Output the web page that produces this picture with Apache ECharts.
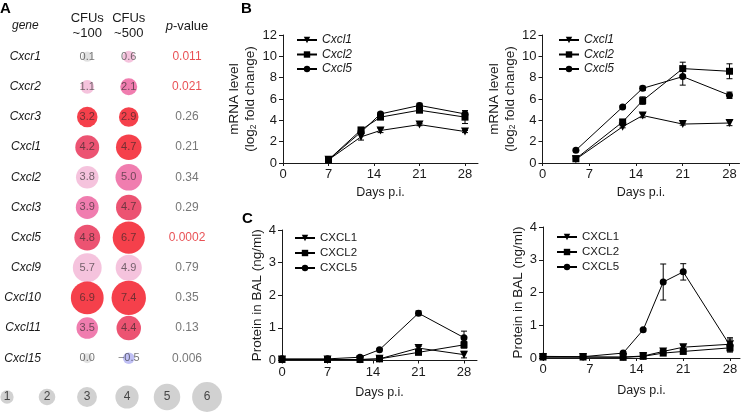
<!DOCTYPE html>
<html><head><meta charset="utf-8">
<script src="https://cdn.jsdelivr.net/npm/echarts@6/dist/echarts.min.js"></script>
<style>html,body{margin:0;padding:0;background:#fff}#c{width:743px;height:412px}</style>
</head><body><div id="c"></div>
<script>
// ---------- Panel A data ----------
const genes = ['Cxcr1','Cxcr2','Cxcr3','Cxcl1','Cxcl2','Cxcl3','Cxcl5','Cxcl9','Cxcl10','Cxcl11','Cxcl15'];
const cfuCols = ['CFUs\n~100','CFUs\n~500'];
const fold100 = [0.1,1.1,3.2,4.2,3.8,3.9,4.8,5.7,6.9,3.5,0.0];
const fold500 = [0.6,2.1,2.9,4.7,5.0,4.7,6.7,4.9,7.4,4.4,-0.5];
const tone100 = [0,1,4,3,1,2,3,1,4,2,0];
const tone500 = [1,2,4,4,2,3,4,1,4,3,-1];
const pValues = ['0.011','0.021','0.26','0.21','0.34','0.29','0.0002','0.79','0.35','0.13','0.006'];
const pHighlight = [1,1,0,0,0,0,1,0,0,0,0];
const sizeKey = [1,2,3,4,5,6];

// ---------- Panel B data (mRNA, log2 fold change) ----------
const bDaysL = [7,12,15,21,28];
const bL_cxcl1 = [0.3,2.45,3.05,3.6,2.95];
const bL_cxcl1_err = [0.1,0.3,0.2,0.1,0.1];
const bL_cxcl2 = [0.3,3.1,4.3,4.95,4.3];
const bL_cxcl2_err = [0.1,0.2,0.2,0.2,0.6];
const bL_cxcl5 = [0.3,2.9,4.6,5.4,4.6];
const bL_cxcl5_err = [0.1,0.2,0.15,0.2,0.3];

const bDaysR = [5,12,15,21,28];
const bR_cxcl1 = [0.35,3.4,4.45,3.65,3.75];
const bR_cxcl1_err = [0.05,0.1,0.2,0.1,0.25];
const bR_cxcl2 = [0.4,3.85,5.85,8.85,8.6];
const bR_cxcl2_err = [0.05,0.2,0.35,0.6,0.7];
const bR_cxcl5 = [1.2,5.25,7.0,8.1,6.35];
const bR_cxcl5_err = [0.1,0.1,0.2,0.8,0.3];

// ---------- Panel C data (protein in BAL, ng/ml) ----------
const cDaysL = [0,7,12,15,21,28];
const cL_cxcl1 = [0.03,0.03,0.03,0.05,0.38,0.18];
const cL_cxcl1_err = [0.01,0.01,0.01,0.01,0.05,0.1];
const cL_cxcl2 = [0.03,0.03,0.03,0.05,0.25,0.48];
const cL_cxcl2_err = [0.01,0.01,0.01,0.01,0.05,0.1];
const cL_cxcl5 = [0.05,0.05,0.1,0.33,1.45,0.7];
const cL_cxcl5_err = [0.01,0.01,0.02,0.03,0.07,0.2];

const cDaysR = [0,6,12,15,18,21,28];
const cR_cxcl1 = [0.03,0.03,0.03,0.06,0.2,0.33,0.42];
const cR_cxcl1_err = [0.01,0.01,0.01,0.01,0.05,0.06,0.2];
const cR_cxcl2 = [0.03,0.03,0.02,0.05,0.15,0.2,0.31];
const cR_cxcl2_err = [0.01,0.01,0.01,0.01,0.04,0.05,0.1];
const cR_cxcl5 = [0.05,0.04,0.15,0.86,2.32,2.63,0.38];
const cR_cxcl5_err = [0.01,0.01,0.03,0.04,0.55,0.25,0.2];

const dayTicks = [0,7,14,21,28];

// ---------- styling helpers ----------
const FONT = '"Liberation Sans", Arial, sans-serif';
const INK = '#1a1a1a';
const toneColors = {'-1':'#b0b0f2','0':'#dadada','1':'#f2b4d4','2':'#ec5c9b','3':'#e7284f','4':'#f2101e'};
const bubbleSize = v => 10 + 3.3 * Math.abs(v);
const fmtFold = v => v.toFixed(1).replace('-', '\u2212');

function lineAxisX(grid, max) {
  return {
    type:'value', gridIndex:grid, min:0, max:max, interval:7,
    name:'Days p.i.', nameLocation:'middle', nameGap: grid===3||grid===4 ? 23 : 26,
    nameTextStyle:{fontFamily:FONT, fontSize:12.5, color:INK},
    axisLine:{show:true, onZero:false, lineStyle:{color:INK, width:1}},
    axisTick:{show:true, length:3, customValues:dayTicks, lineStyle:{color:INK}},
    axisLabel:{customValues:dayTicks, fontFamily:FONT, fontSize:13, color:INK, margin:5},
    splitLine:{show:false}
  };
}
function lineAxisY(grid, max, interval, name, gap) {
  return {
    type:'value', gridIndex:grid, min:0, max:max, interval:interval,
    name:name, nameLocation:'middle', nameGap:gap, nameRotate:90,
    nameTextStyle:{fontFamily:FONT, fontSize:13.5, color:INK, lineHeight:16,
      rich:{sub:{fontFamily:FONT, fontSize:8.5, color:INK, padding:[6,0,0,0]}}},
    axisLine:{show:true, lineStyle:{color:INK, width:1}},
    axisTick:{show:true, length:4, lineStyle:{color:INK}},
    axisLabel:{fontFamily:FONT, fontSize:13, color:INK, margin:6},
    splitLine:{show:false}
  };
}
const symbolDefs = {
  tri:{symbol:'triangle', symbolRotate:180, symbolSize:8},
  sq:{symbol:'rect', symbolRotate:0, symbolSize:7},
  dot:{symbol:'circle', symbolRotate:0, symbolSize:7}
};
function lineSeries(name, axis, days, vals, sym) {
  const s = symbolDefs[sym];
  return {
    type:'line', name:name, xAxisIndex:axis, yAxisIndex:axis,
    data: days.map((d,i)=>[d, vals[i]]),
    symbol:s.symbol, symbolRotate:s.symbolRotate, symbolSize:s.symbolSize,
    showAllSymbol:true,
    lineStyle:{color:'#000', width:1}, itemStyle:{color:'#000'},
    z:3, animation:false
  };
}
function errSeries(axis, days, vals, errs) {
  return {
    type:'custom', xAxisIndex:axis, yAxisIndex:axis,
    data: days.map((d,i)=>[d, vals[i]-errs[i], vals[i]+errs[i]]),
    encode:{x:0, y:[1,2]},
    renderItem:(params, api) => {
      const x = api.value(0);
      const lo = api.coord([x, api.value(1)]);
      const hi = api.coord([x, api.value(2)]);
      const w = 3, st = {stroke:'#000', lineWidth:1};
      return {type:'group', children:[
        {type:'line', shape:{x1:lo[0], y1:lo[1], x2:hi[0], y2:hi[1]}, style:st},
        {type:'line', shape:{x1:hi[0]-w, y1:hi[1], x2:hi[0]+w, y2:hi[1]}, style:st},
        {type:'line', shape:{x1:lo[0]-w, y1:lo[1], x2:lo[0]+w, y2:lo[1]}, style:st}
      ]};
    },
    z:2, animation:false
  };
}
function legendBox(names, left, top, italic, fs, gap) {
  return {
    data:names, orient:'vertical', left:left, top:top,
    itemWidth:20, itemHeight:8, itemGap:gap, padding:0,
    textStyle:{fontFamily:FONT, fontSize:fs, color:INK, fontStyle: italic ? 'italic':'normal'},
    selectedMode:false
  };
}

// ---------- Panel A series data ----------
const bubbleData = [];
genes.forEach((g,i)=>{
  bubbleData.push({value:[0, i, fold100[i]], itemStyle:{color:toneColors[tone100[i]]}});
  bubbleData.push({value:[1, i, fold500[i]], itemStyle:{color:toneColors[tone500[i]]}});
});
const pData = genes.map((g,i)=>({value:[0,i], label:{color: pHighlight[i] ? '#e3262b' : '#555555'}}));

const option = {
  animation:false,
  backgroundColor:'#fff',
  textStyle:{fontFamily:FONT},
  grid:[
    {left:66.5, top:41.6, width:83, height:331.7},
    {left:165, top:41.6, width:44, height:331.7},
    {left:7, top:390, width:200, height:14},
    {left:283, top:35, width:195, height:128},
    {left:542.5, top:35, width:197, height:128},
    {left:282, top:230, width:195, height:130.5},
    {left:543, top:227, width:197, height:131}
  ],
  xAxis:[
    {type:'category', gridIndex:0, data:cfuCols, position:'top',
      axisLine:{show:false}, axisTick:{show:false},
      axisLabel:{fontFamily:FONT, fontSize:13, color:INK, lineHeight:14.5, margin:1, interval:0}},
    {type:'category', gridIndex:1, data:['p-value'], position:'top',
      axisLine:{show:false}, axisTick:{show:false},
      axisLabel:{formatter:()=>'{i|p}-value', fontFamily:FONT, fontSize:13, color:INK, margin:9,
        rich:{i:{fontFamily:FONT, fontSize:13, color:INK, fontStyle:'italic'}}}},
    {type:'value', gridIndex:2, min:1, max:6, show:false},
    lineAxisX(3, 30), lineAxisX(4, 29.5), lineAxisX(5, 30), lineAxisX(6, 29.5)
  ],
  yAxis:[
    {type:'category', gridIndex:0, data:genes, inverse:true,
      axisLine:{show:false}, axisTick:{show:false},
      axisLabel:{fontFamily:FONT, fontSize:12, fontStyle:'italic', color:INK, margin:25.5, interval:0}},
    {type:'category', gridIndex:1, data:genes, inverse:true, show:false},
    {type:'value', gridIndex:2, min:0, max:1, show:false},
    lineAxisY(3, 12, 2, 'mRNA level\n(log{sub|2} fold change)', 11),
    lineAxisY(4, 12, 2, 'mRNA level\n(log{sub|2} fold change)', 11),
    lineAxisY(5, 4, 1, 'Protein in BAL (ng/ml)', 11),
    lineAxisY(6, 4, 1, 'Protein in BAL (ng/ml)', 12)
  ],
  legend:[
    legendBox(['Cxcl1','Cxcl2','Cxcl5'], 296, 34, true, 12, 2.5),
    legendBox(['Cxcl1','Cxcl2','Cxcl5'], 558, 34, true, 12, 2.5),
    legendBox(['CXCL1','CXCL2','CXCL5'], 294, 232, false, 11.5, 3),
    legendBox(['CXCL1','CXCL2','CXCL5'], 556, 231, false, 11.5, 3)
  ],
  graphic:[
    {type:'text', left:0, top:1, style:{text:'A', fontFamily:FONT, fontSize:15, fontWeight:'bold', fill:'#000'}},
    {type:'text', left:241, top:1, style:{text:'B', fontFamily:FONT, fontSize:15, fontWeight:'bold', fill:'#000'}},
    {type:'text', left:242, top:211, style:{text:'C', fontFamily:FONT, fontSize:15, fontWeight:'bold', fill:'#000'}},
    {type:'text', left:12, top:20, style:{text:'gene', fontFamily:FONT, fontSize:12, fontStyle:'italic', fill:INK}}
  ],
  series:[
    {type:'scatter', xAxisIndex:0, yAxisIndex:0, data:bubbleData,
      symbolSize:v=>bubbleSize(v[2]),
      label:{show:true, position:'inside', formatter:p=>fmtFold(p.value[2]),
        fontFamily:FONT, fontSize:11, color:'rgba(35,35,35,0.78)'},
      emphasis:{disabled:true}},
    {type:'scatter', xAxisIndex:1, yAxisIndex:1, data:pData, symbolSize:1,
      itemStyle:{color:'rgba(0,0,0,0)'},
      label:{show:true, position:'inside', formatter:p=>pValues[p.dataIndex], fontFamily:FONT, fontSize:12},
      emphasis:{disabled:true}},
    {type:'scatter', xAxisIndex:2, yAxisIndex:2, data:sizeKey.map(k=>[k,0.5]),
      symbolSize:v=>bubbleSize(v[0]), itemStyle:{color:'#c6c6c6'},
      label:{show:true, position:'inside', formatter:p=>String(p.value[0]), fontFamily:FONT, fontSize:12, color:'#222'},
      emphasis:{disabled:true}},

    errSeries(3, bDaysL, bL_cxcl1, bL_cxcl1_err),
    errSeries(3, bDaysL, bL_cxcl2, bL_cxcl2_err),
    errSeries(3, bDaysL, bL_cxcl5, bL_cxcl5_err),
    lineSeries('Cxcl1', 3, bDaysL, bL_cxcl1, 'tri'),
    lineSeries('Cxcl2', 3, bDaysL, bL_cxcl2, 'sq'),
    lineSeries('Cxcl5', 3, bDaysL, bL_cxcl5, 'dot'),

    errSeries(4, bDaysR, bR_cxcl1, bR_cxcl1_err),
    errSeries(4, bDaysR, bR_cxcl2, bR_cxcl2_err),
    errSeries(4, bDaysR, bR_cxcl5, bR_cxcl5_err),
    lineSeries('Cxcl1', 4, bDaysR, bR_cxcl1, 'tri'),
    lineSeries('Cxcl2', 4, bDaysR, bR_cxcl2, 'sq'),
    lineSeries('Cxcl5', 4, bDaysR, bR_cxcl5, 'dot'),

    errSeries(5, cDaysL, cL_cxcl1, cL_cxcl1_err),
    errSeries(5, cDaysL, cL_cxcl2, cL_cxcl2_err),
    errSeries(5, cDaysL, cL_cxcl5, cL_cxcl5_err),
    lineSeries('CXCL1', 5, cDaysL, cL_cxcl1, 'tri'),
    lineSeries('CXCL2', 5, cDaysL, cL_cxcl2, 'sq'),
    lineSeries('CXCL5', 5, cDaysL, cL_cxcl5, 'dot'),

    errSeries(6, cDaysR, cR_cxcl1, cR_cxcl1_err),
    errSeries(6, cDaysR, cR_cxcl2, cR_cxcl2_err),
    errSeries(6, cDaysR, cR_cxcl5, cR_cxcl5_err),
    lineSeries('CXCL1', 6, cDaysR, cR_cxcl1, 'tri'),
    lineSeries('CXCL2', 6, cDaysR, cR_cxcl2, 'sq'),
    lineSeries('CXCL5', 6, cDaysR, cR_cxcl5, 'dot')
  ]
};
const chart = echarts.init(document.getElementById('c'), null, {renderer:'canvas'});
chart.setOption(option);
</script>
</body></html>
